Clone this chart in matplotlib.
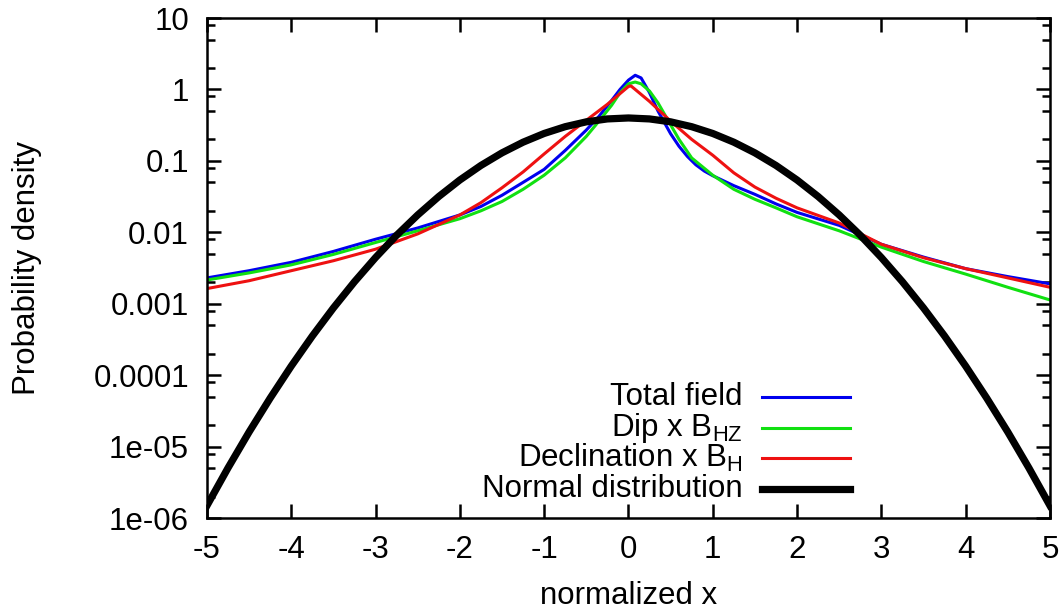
import numpy as np
import matplotlib
matplotlib.use('Agg')
import matplotlib.pyplot as plt
from matplotlib.ticker import LogLocator, NullFormatter, FixedLocator

plt.rcParams['font.family'] = ['Liberation Sans', 'DejaVu Sans']
plt.rcParams['mathtext.fontset'] = 'custom'
plt.rcParams['mathtext.rm'] = 'Liberation Sans'
plt.rcParams['mathtext.it'] = 'Liberation Sans'

# values
x_total = [-5, -4.5, -4, -3.5, -3, -2.5, -2, -1.75, -1.5, -1.25, -1, -0.75, -0.5, -0.35, -0.2, -0.1,
           0, 0.08, 0.15, 0.25, 0.35, 0.5, 0.6, 0.7, 0.8, 0.9, 1, 1.25, 1.5, 1.75, 2, 2.5, 3, 3.5,
           4, 4.5, 5]
y_total = [0.0023, 0.0029, 0.0038, 0.0054, 0.0080, 0.0115, 0.0175, 0.023, 0.033, 0.05, 0.076, 0.14,
           0.27, 0.42, 0.7, 1.0, 1.35, 1.58, 1.45, 0.9, 0.5, 0.24, 0.16, 0.115, 0.088, 0.072, 0.062,
           0.045, 0.034, 0.025, 0.019, 0.0125, 0.0068, 0.0045, 0.0031, 0.0024, 0.0019]

x_dip = [-5, -4.5, -4, -3.5, -3, -2.5, -2, -1.75, -1.5, -1.25, -1, -0.75, -0.5, -0.35, -0.2, -0.1,
         0, 0.08, 0.15, 0.25, 0.35, 0.5, 0.6, 0.75, 1, 1.25, 1.5, 1.75, 2, 2.5, 3, 3.5, 4, 4.5, 5]
y_dip = [0.00215, 0.0027, 0.0035, 0.0049, 0.0072, 0.0105, 0.0155, 0.02, 0.027, 0.04, 0.063, 0.11,
         0.22, 0.36, 0.6, 0.9, 1.2, 1.27, 1.2, 0.95, 0.65, 0.32, 0.2, 0.11, 0.063, 0.04, 0.029,
         0.022, 0.0165, 0.0105, 0.0062, 0.0039, 0.0026, 0.0017, 0.00113]

x_decl = [-5, -4.5, -4, -3.5, -3, -2.5, -2, -1.75, -1.5, -1.25, -1, -0.75, -0.5, -0.25,
          0, 0.03, 0.25, 0.5, 0.75, 1, 1.25, 1.5, 1.75, 2, 2.5, 3, 3.5, 4, 4.5, 5]
y_decl = [0.00163, 0.0021, 0.0029, 0.0040, 0.0058, 0.0095, 0.0175, 0.026, 0.042, 0.07, 0.125, 0.22,
          0.37, 0.62, 1.1, 1.12, 0.68, 0.36, 0.2, 0.12, 0.068, 0.043, 0.03, 0.022, 0.0135, 0.0068,
          0.0044, 0.0031, 0.0023, 0.0017]

x_norm = [-5, -4.75, -4.5, -4.25, -4, -3.75, -3.5, -3.25, -3, -2.75, -2.5, -2.25, -2, -1.75, -1.5,
          -1.25, -1, -0.75, -0.5, -0.25, 0, 0.25, 0.5, 0.75, 1, 1.25, 1.5, 1.75, 2, 2.25, 2.5,
          2.75, 3, 3.25, 3.5, 3.75, 4, 4.25, 4.5, 4.75, 5]
y_norm = [1.49e-6, 5.03e-6, 1.60e-5, 4.77e-5, 1.34e-4, 3.53e-4, 8.73e-4, 2.03e-3, 4.43e-3, 9.09e-3,
          0.0175, 0.0317, 0.054, 0.0863, 0.1295, 0.1826, 0.242, 0.3011, 0.3521, 0.3867, 0.3989,
          0.3867, 0.3521, 0.3011, 0.242, 0.1826, 0.1295, 0.0863, 0.054, 0.0317, 0.0175, 9.09e-3,
          4.43e-3, 2.03e-3, 8.73e-4, 3.53e-4, 1.34e-4, 4.77e-5, 1.60e-5, 5.03e-6, 1.49e-6]

x_ticks = [-5, -4, -3, -2, -1, 0, 1, 2, 3, 4, 5]
y_ticks = [1e-6, 1e-5, 1e-4, 1e-3, 1e-2, 1e-1, 1, 10]
y_labels = ['1e-06', '1e-05', '0.0001', '0.001', '0.01', '0.1', '1', '10']

fs = 22.5

fig = plt.figure(figsize=(10.64, 6.09), dpi=100)
ax = fig.add_axes([0.1945, 0.1494, 0.7923, 0.821])

series = [
    (x_total, y_total, '#0000ee', 2.2, 'Total field'),
    (x_dip, y_dip, '#11e011', 2.2, r'Dip x B$_\mathregular{HZ}$'),
    (x_decl, y_decl, '#ee1111', 2.2, r'Declination x B$_\mathregular{H}$'),
    (x_norm, y_norm, 'black', 5.2, 'Normal distribution'),
]
for xs, ys, c, lw, lab in series:
    ax.plot(xs, ys, color=c, lw=lw, solid_joinstyle='round')

ax.set_yscale('log')
ax.set_xlim(-5, 5)
ax.set_ylim(1e-6, 10)
ax.xaxis.set_major_locator(FixedLocator(x_ticks))
ax.set_xticklabels([str(v) for v in x_ticks])
ax.yaxis.set_major_locator(FixedLocator(y_ticks))
ax.set_yticklabels(y_labels)
ax.yaxis.set_minor_locator(LogLocator(base=10, subs=(2, 5, 8), numticks=20))
ax.yaxis.set_minor_formatter(NullFormatter())

ax.tick_params(which='both', direction='in', top=True, right=True, width=1.8, labelsize=fs)
ax.tick_params(which='major', length=10)
ax.tick_params(which='minor', length=5.5)
ax.tick_params(axis='y', pad=13)
ax.tick_params(axis='x', pad=12)
for s in ax.spines.values():
    s.set_linewidth(1.8)

ax.set_xlabel('normalized x', fontsize=fs)
ax.set_ylabel('Probability density', fontsize=fs)
ax.xaxis.set_label_coords(0.5, -0.125)
ax.yaxis.set_label_coords(-0.196, 0.5)

# key: text right-aligned, line sample on its right (gnuplot style)
row_y = [0.242, 0.181, 0.12, 0.059]
for (xs, ys, c, lw, lab), ry in zip(series, row_y):
    ax.text(0.635, ry, lab, transform=ax.transAxes, ha='right', va='center', fontsize=fs)
    ax.plot([0.659, 0.763], [ry, ry], transform=ax.transAxes, color=c, lw=lw, clip_on=False)

fig.savefig('out.png', dpi=100)
